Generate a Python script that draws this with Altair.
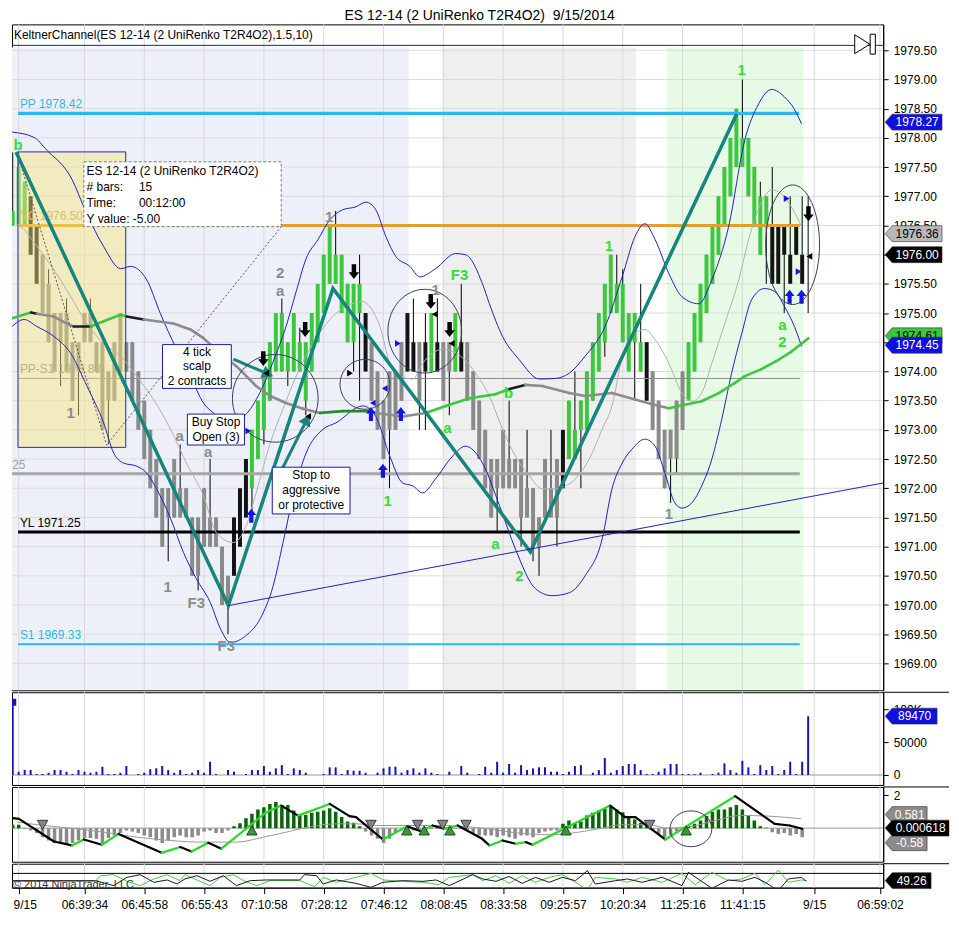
import altair as alt
import pandas as pd

FONT = "Liberation Sans"
W = 874
H_PRICE, H_VOL, H_IND, H_LOW = 668, 93, 75, 24
X_DOMAIN = [-0.12, 145.55]
P_DOMAIN = [1968.54, 1979.944]
V_DOMAIN = [-15150, 125750]
I_DOMAIN = [-2.04, 2.50]
L_DOMAIN = [29.1, 97.7]

TITLE = "ES 12-14 (2 UniRenko T2R4O2)\u00a0 9/15/2014"
KC_TEXT = "KeltnerChannel(ES 12-14 (2 UniRenko T2R4O2),1.5,10)"

# ---------------- x axis ----------------
XT = [1, 12, 22, 32, 42, 52, 62, 72, 82, 92, 102, 112, 122, 134, 145]
XL = ["9/15", "06:39:34", "06:45:58", "06:55:43", "07:10:58", "07:28:12", "07:46:12",
      "08:08:45", "08:33:58", "09:25:57", "10:20:34", "11:25:16", "11:41:15", "9/15", "06:59:02"]
P_TICKS = [1969.0, 1969.5, 1970.0, 1970.5, 1971.0, 1971.5, 1972.0, 1972.5, 1973.0, 1973.5,
           1974.0, 1974.5, 1975.0, 1975.5, 1976.0, 1976.5, 1977.0, 1977.5, 1978.0, 1978.5,
           1979.0, 1979.5]

# ---------------- price bars (UniRenko) ----------------
bar_open = [1976.5, 1976.5, 1976.5, 1977.0, 1976.5, 1976.0, 1975.5, 1975.0, 1975.0, 1975.0,
            1974.5, 1974.5, 1975.0, 1975.0, 1974.5, 1974.5, 1974.0, 1974.5, 1975.0, 1974.5,
            1974.5, 1974.0, 1973.5, 1973.0, 1972.5, 1972.0, 1972.0, 1972.5, 1972.0, 1972.0,
            1971.5, 1971.5, 1972.0, 1971.5, 1971.5, 1971.0, 1970.5, 1970.5, 1971.0, 1971.5,
            1972.0, 1972.5, 1973.0, 1973.5, 1974.0, 1974.0, 1974.0, 1974.0, 1974.0, 1973.5,
            1974.0, 1974.5, 1975.0, 1975.5, 1975.5, 1975.0, 1974.5, 1974.5, 1975.0, 1975.0,
            1974.5, 1974.0, 1973.5, 1974.0, 1974.0, 1974.5, 1975.0, 1974.5, 1974.5, 1974.5,
            1974.0, 1974.5, 1974.5, 1974.5, 1974.0, 1974.5, 1974.5, 1974.0, 1973.5, 1973.0,
            1972.5, 1972.5, 1973.0, 1972.5, 1972.5, 1972.5, 1972.0, 1972.0, 1971.5, 1972.5,
            1972.0, 1972.5, 1972.0, 1972.5, 1972.5, 1973.0, 1973.0, 1973.5, 1974.0, 1974.5,
            1975.0, 1975.0, 1974.5, 1974.0, 1974.5, 1974.0, 1974.5, 1974.0, 1973.5, 1973.0,
            1973.0, 1973.5, 1974.0, 1973.5, 1974.0, 1974.5, 1975.0, 1975.5, 1976.0, 1976.5,
            1977.0, 1977.5, 1977.5, 1977.0, 1976.5, 1976.0, 1976.5, 1976.5, 1976.5, 1976.5,
            1976.0, 1976.5, 1976.0, 1976.0]
bar_close = [1976.75, 1977.5, 1977.25, 1976.0, 1975.5, 1975.0, 1974.5, 1974.0, 1974.5, 1974.0,
             1973.5, 1974.0, 1974.5, 1974.5, 1974.0, 1973.0, 1973.5, 1973.5, 1974.0, 1974.0,
             1973.5, 1973.0, 1972.5, 1972.0, 1971.5, 1971.0, 1971.5, 1971.5, 1971.5, 1971.5,
             1970.5, 1970.5, 1971.0, 1971.0, 1971.0, 1970.0, 1970.0, 1971.5, 1972.0, 1972.5,
             1973.0, 1973.5, 1974.0, 1974.5, 1975.0, 1975.0, 1974.5, 1975.0, 1974.5, 1974.5,
             1975.0, 1975.5, 1976.0, 1976.5, 1976.0, 1976.0, 1975.5, 1975.5, 1975.5, 1974.0,
             1973.5, 1973.0, 1972.5, 1973.0, 1973.0, 1973.5, 1974.0, 1974.0, 1973.5, 1974.0,
             1975.0, 1974.0, 1973.5, 1974.0, 1975.0, 1974.0, 1973.5, 1973.0, 1972.5, 1972.0,
             1971.5, 1972.0, 1972.0, 1972.0, 1972.0, 1971.5, 1971.5, 1971.0, 1971.0, 1971.5,
             1971.5, 1971.5, 1973.0, 1973.5, 1973.0, 1973.5, 1974.0, 1974.5, 1975.0, 1975.5,
             1976.0, 1975.5, 1975.5, 1975.0, 1975.0, 1974.5, 1973.5, 1973.0, 1972.5, 1972.0,
             1972.5, 1972.5, 1973.0, 1974.5, 1975.0, 1975.5, 1976.0, 1976.5, 1977.0, 1977.5,
             1978.0, 1978.5, 1978.0, 1978.0, 1977.5, 1977.0, 1977.0, 1975.5, 1975.5, 1976.0,
             1975.5, 1976.0, 1975.5, 1976.0]
bar_high = [1977.75, 1977.75, 1977.25, 1977.0, 1976.5, 1976.0, 1975.75, 1975.0, 1975.0, 1975.25,
            1974.5, 1974.5, 1975.0, 1975.25, 1974.5, 1974.5, 1974.0, 1974.5, 1975.0, 1974.5,
            1974.5, 1974.0, 1973.5, 1973.0, 1972.5, 1972.0, 1972.0, 1972.5, 1972.75, 1972.0,
            1971.5, 1971.5, 1972.0, 1972.5, 1971.5, 1971.0, 1970.5, 1971.5, 1972.0, 1972.5,
            1973.0, 1973.5, 1974.0, 1974.5, 1975.0, 1975.25, 1974.5, 1975.0, 1974.75, 1974.5,
            1975.0, 1975.5, 1976.0, 1976.5, 1976.75, 1976.0, 1975.5, 1975.5, 1976.0, 1975.0,
            1974.5, 1974.0, 1973.5, 1974.0, 1974.0, 1974.5, 1975.0, 1975.25, 1974.5, 1975.0,
            1975.0, 1975.25, 1974.5, 1974.5, 1975.0, 1975.5, 1974.5, 1974.0, 1973.5, 1973.0,
            1972.5, 1972.5, 1973.0, 1973.5, 1972.5, 1972.5, 1973.0, 1972.0, 1971.5, 1972.5,
            1973.0, 1972.5, 1973.0, 1973.5, 1974.0, 1973.5, 1974.0, 1974.5, 1975.0, 1975.5,
            1976.0, 1976.0, 1975.75, 1975.0, 1975.0, 1975.5, 1974.5, 1974.0, 1973.5, 1973.0,
            1973.0, 1973.5, 1974.0, 1974.5, 1975.0, 1975.5, 1976.0, 1976.5, 1977.0, 1977.5,
            1978.0, 1978.5, 1979.0, 1978.0, 1977.5, 1977.25, 1977.0, 1977.5, 1976.5, 1976.5,
            1977.0, 1976.5, 1977.0, 1977.0]
bar_low = [1976.5, 1976.5, 1976.5, 1976.0, 1975.5, 1975.0, 1974.5, 1974.0, 1973.75, 1974.0,
           1973.5, 1973.25, 1974.5, 1974.5, 1974.0, 1973.0, 1972.75, 1973.5, 1974.0, 1974.0,
           1973.5, 1973.0, 1972.5, 1972.0, 1971.5, 1971.0, 1970.75, 1971.5, 1971.5, 1971.5,
           1970.5, 1970.25, 1971.0, 1971.0, 1971.0, 1970.0, 1969.5, 1970.5, 1971.0, 1971.5,
           1971.5, 1972.5, 1972.75, 1973.5, 1974.0, 1974.0, 1973.75, 1974.0, 1974.0, 1973.25,
           1974.0, 1974.5, 1975.0, 1975.5, 1975.5, 1975.0, 1974.5, 1974.0, 1973.5, 1974.0,
           1973.5, 1973.0, 1972.5, 1972.0, 1973.0, 1973.5, 1974.0, 1974.0, 1973.0, 1973.0,
           1974.0, 1974.0, 1973.5, 1973.25, 1974.0, 1974.0, 1973.5, 1973.0, 1972.5, 1972.0,
           1971.5, 1971.25, 1972.0, 1972.0, 1972.0, 1971.0, 1971.5, 1970.75, 1970.5, 1971.5,
           1971.5, 1971.0, 1972.0, 1972.5, 1972.5, 1972.0, 1973.0, 1973.5, 1974.0, 1974.25,
           1975.0, 1975.0, 1974.5, 1974.0, 1973.5, 1974.0, 1973.5, 1973.0, 1972.5, 1972.0,
           1971.75, 1972.25, 1973.0, 1973.5, 1974.0, 1974.5, 1975.0, 1975.5, 1976.0, 1976.5,
           1977.0, 1977.5, 1977.5, 1977.0, 1976.5, 1976.0, 1975.5, 1975.5, 1975.5, 1975.0,
           1975.5, 1976.0, 1975.5, 1975.0]
bar_kind = ("gggkk" + "ssssssssssssssssssssssssssssssss" + "kkk" + "ggggggggggggggggggg" + "k"
            + "ssssss" + "kk" + "s" + "k" + "g" + "k" + "ss" + "g" + "k" + "ssssssssssssssss"
            + "k" + "ggggggggggggg" + "k" + "ssssss" + "gggggggggggggg" + "kkkkkkk")

# ---------------- indicators on price ----------------
upper_i = [-0.1, 3.55, 5.7, 9.7, 12.4, 15.2, 18.05, 19.7, 22.4, 24.7, 27.4, 29.7, 31.9, 33.55,
           36.05, 38.55, 41.05, 43.55, 45.7, 47.4, 49.05, 51.05, 53.05, 55.2, 57.4, 59.05, 60.7,
           62.4, 64.05, 66.4, 68.05, 70.7, 74.05, 75.7, 78.55, 79.7, 81.9, 84.7, 88.05, 90.7,
           93.05, 95.7, 99.05, 101.9, 104.05, 105.7, 107.4, 109.7, 111.9, 114.7, 116.9, 119.7,
           122.4, 124.7, 126.9, 129.05, 130.7, 131.9]
upper_p = [1978.10, 1978.01, 1977.79, 1977.33, 1976.70, 1976.14, 1975.76, 1975.80, 1975.57,
           1974.99, 1974.38, 1973.92, 1973.46, 1973.29, 1973.15, 1973.23, 1973.58, 1974.17,
           1974.77, 1975.37, 1975.93, 1976.26, 1976.60, 1976.77, 1976.82, 1976.90, 1976.77,
           1976.31, 1975.97, 1975.80, 1975.62, 1975.76, 1976.02, 1976.00, 1975.50, 1975.16,
           1974.60, 1974.20, 1973.87, 1973.88, 1973.97, 1974.26, 1974.77, 1975.62, 1976.31,
           1976.53, 1976.26, 1975.68, 1975.28, 1975.16, 1975.57, 1976.48, 1977.96, 1978.58,
           1978.83, 1978.70, 1978.49, 1978.24]
lower_i = [-0.1, 1.9, 4.05, 6.9, 9.7, 12.4, 15.2, 16.9, 18.55, 20.7, 22.4, 24.05, 26.4, 28.55,
           30.7, 33.05, 34.7, 36.4, 39.05, 41.4, 43.55, 45.2, 46.9, 49.05, 51.9, 54.05, 58.55,
           60.7, 63.05, 65.2, 66.9, 68.55, 70.7, 73.55, 75.7, 78.55, 81.4, 84.05, 87.4, 90.2,
           93.05, 95.7, 98.55, 100.2, 101.9, 103.55, 105.7, 107.4, 109.05, 110.7, 111.9, 113.55,
           115.2, 116.9, 118.55, 120.2, 121.9, 123.55, 125.7, 127.4, 129.05, 130.7, 131.9]
lower_p = [1974.77, 1974.89, 1974.77, 1974.60, 1974.31, 1973.75, 1973.12, 1972.60, 1972.43,
           1972.38, 1972.26, 1971.99, 1971.48, 1970.90, 1970.45, 1970.04, 1969.60, 1969.36,
           1969.48, 1969.77, 1970.33, 1971.07, 1971.87, 1972.60, 1973.01, 1973.12, 1973.41,
           1973.23, 1972.55, 1972.09, 1972.04, 1971.92, 1972.16, 1972.55, 1972.72, 1972.43,
           1971.70, 1970.96, 1970.28, 1970.16, 1970.21, 1970.50, 1971.13, 1971.99, 1972.43,
           1972.67, 1972.84, 1972.72, 1972.26, 1971.75, 1971.66, 1971.75, 1972.04, 1972.50,
           1973.18, 1973.97, 1974.65, 1975.23, 1975.42, 1975.37, 1975.11, 1974.77, 1974.43]
fast_i = [0.2, 1.4, 4.05, 6.9, 9.7, 12.4, 15.2, 18.05, 20.7, 23.55, 26.4, 29.05, 31.9, 34.05,
          36.9, 39.05, 40.7, 43.05, 45.2, 47.4, 50.2, 53.05, 55.7, 58.55, 59.7, 61.4, 63.05,
          64.7, 66.9, 68.55, 71.9, 74.9, 77.4, 79.7, 81.9, 84.05, 86.4, 88.55, 90.7, 94.05,
          96.4, 98.55, 100.2, 101.9, 104.05, 105.7, 107.4, 109.7, 111.9, 113.55, 115.2, 116.9,
          119.05, 121.4, 123.05, 125.2, 126.9, 128.55, 130.2, 131.9]
fast_p = [1976.56, 1976.48, 1976.14, 1975.74, 1975.28, 1974.82, 1974.48, 1974.26, 1973.92,
          1973.52, 1973.01, 1972.43, 1971.87, 1971.24, 1971.07, 1971.36, 1971.92, 1972.77,
          1973.36, 1973.92, 1974.48, 1974.89, 1975.11, 1975.20, 1975.11, 1974.77, 1974.14,
          1973.92, 1973.87, 1974.14, 1974.38, 1974.26, 1973.97, 1973.58, 1973.01, 1972.55,
          1972.21, 1971.99, 1971.99, 1972.16, 1972.50, 1973.01, 1973.41, 1974.24, 1974.65,
          1974.72, 1974.55, 1974.14, 1973.63, 1973.49, 1973.63, 1974.14, 1974.82, 1975.57,
          1976.26, 1976.90, 1977.11, 1977.04, 1976.82, 1976.48]
slow_i = [-0.1, 3.05, 4.05, 6.9, 9.05, 10.2, 13.05, 15.2, 18.05, 19.05, 21.9, 26.9, 29.7, 31.9,
          34.7, 37.4, 40.7, 43.05, 45.7, 48.55, 51.4, 55.2, 59.7, 60.7, 65.2, 69.05, 72.4, 76.4,
          80.7, 83.05, 85.7, 88.55, 93.05, 95.7, 100.2, 104.05, 106.9, 109.7, 111.4, 115.2,
          118.05, 120.7, 122.4, 125.2, 128.05, 130.2, 133.05]
slow_p = [1974.91, 1975.01, 1974.99, 1974.94, 1974.82, 1974.77, 1974.77, 1974.86, 1974.97,
          1974.94, 1974.89, 1974.82, 1974.72, 1974.57, 1974.31, 1974.09, 1973.75, 1973.58,
          1973.46, 1973.36, 1973.29, 1973.32, 1973.32, 1973.29, 1973.23, 1973.29, 1973.41,
          1973.54, 1973.61, 1973.70, 1973.77, 1973.75, 1973.63, 1973.58, 1973.63, 1973.52,
          1973.44, 1973.37, 1973.41, 1973.49, 1973.63, 1973.80, 1973.92, 1974.04, 1974.20,
          1974.34, 1974.57]
slow_kind = "gksssk" + "ggg" + "k" + "ssssssssss" + "dd" + "sss" + "gggg" + "k" + "sssssss" + "gggggggggg"

# ---------------- drawing objects ----------------
region_from = [-0.12, 71.9, 109.4]
region_to = [66.2, 104.2, 132.2]
region_fill = ["#eef0f9", "#efefef", "#e6fae6"]
region_top = 1979.55

level_price = [1978.42, 1976.50, 1973.88, 1972.25, 1971.25, 1969.33]
level_from = [0.9, 0.9, 0.9, -0.12, 0.9, 0.9]
level_to = [131.5, 131.6, 131.6, 131.6, 131.6, 131.6]
level_text = ["PP 1978.42", "YC 1976.50", "PP-S1 1973.88", "25", "YL 1971.25", "S1 1969.33"]
level_text_at = [1.2, 1.2, 1.2, -0.12, 1.2, 1.2]

zig_i = [0.55, 36.05, 53.55, 86.55, 121.05]
zig_p = [1977.76, 1969.99, 1975.42, 1970.91, 1978.41]
trend_i = [36.05, 145.55]
trend_p = [1969.99, 1972.09]
arrow1_i, arrow1_p = [36.9, 42.4], [1974.21, 1973.97]
arrow2_i, arrow2_p = [44.9, 49.05], [1972.30, 1973.15]
dash_i = [1.2, 15.7, 44.9]
dash_p = [1977.59, 1972.74, 1976.48]
top_line_p = 1979.585

lab_text = ["b", "1", "a", "1", "a", "F3", "F3", "2", "a", "1", "1", "1", "F3", "a", "b", "a",
            "2", "1", "1", "1", "a", "2"]
lab_i = [0.9, 9.7, 27.9, 25.9, 32.7, 30.7, 35.7, 44.7, 44.7, 52.9, 62.7, 70.7, 74.7, 72.7, 82.9,
         80.7, 84.7, 99.7, 109.7, 121.9, 128.7, 128.7]
lab_p = [1977.88, 1973.29, 1972.89, 1970.30, 1972.62, 1970.04, 1969.29, 1975.69, 1975.37,
         1976.65, 1971.78, 1975.40, 1975.66, 1973.03, 1973.63, 1971.05, 1970.49, 1976.14,
         1971.56, 1979.16, 1974.80, 1974.50]
lab_kind = "gsssssssssgsggggggsggg"

down_i = [41.9, 48.9, 57.05, 69.9, 73.05, 133.05]
down_p = [1974.22, 1974.72, 1975.71, 1975.20, 1974.72, 1976.70]
up_i = [39.9, 59.9, 61.9, 64.9, 129.9, 131.9]
up_p = [1971.53, 1973.27, 1972.30, 1973.27, 1975.28, 1975.28]
tl_black_i = [42.4, 49.4, 70.55, 73.4, 133.2]
tl_black_p = [1973.97, 1973.23, 1974.98, 1974.48, 1975.97]
tr_black_i, tr_black_p = [56.4], [1973.97]
tl_blue_i, tl_blue_p = [62.2, 60.2], [1973.71, 1973.46]
tr_blue_i = [64.4, 39.4, 129.4, 131.4]
tr_blue_p = [1974.48, 1972.98, 1976.96, 1975.71]

ybox = [0.88, 18.9, 1977.76, 1972.70]
tip_box = [11.9, 44.9, 1977.59, 1976.48]
tip_left = ["ES 12-14 (2 UniRenko T2R4O2)", "# bars:", "Time:", "Y value: -5.00"]
tip_right = ["", "15", "00:12:00", ""]
tip_p = [1977.43, 1977.16, 1976.89, 1976.61]

cb_x0 = [25.05, 29.2, 43.4]
cb_x1 = [36.55, 38.75, 56.4]
cb_p0 = [1974.46, 1973.27, 1972.36]
cb_p1 = [1973.71, 1972.74, 1971.56]
cb_tx = [30.8, 34.0, 49.9]
cb_lines = [["4 tick", "scalp", "2 contracts"], ["Buy Stop", "Open (3)"],
            ["Stop to", "aggressive", "or protective"]]
cb_line_p = [[1974.34, 1974.09, 1973.83], [1973.13, 1972.88], [1972.23, 1971.97, 1971.71]]

price_badge_v = [1976.36, 1976.00, 1974.61, 1974.45, 1978.27]
price_badge_t = ["1976.36", "1976.00", "1974.61", "1974.45", "1978.27"]

# ---------------- volume ----------------
volume = [110600, 5000, 7500, 7500, 1500, 1500, 3500, 7500, 7500, 5000,
          1500, 7500, 5000, 3500, 5000, 12600, 1500, 1500, 3500, 13600,
          0, 1500, 3500, 8600, 10100, 13600, 7500, 3500, 7500, 1500,
          3500, 7500, 3500, 20200, 1500, 0, 7500, 5000, 0, 1500,
          7500, 7500, 13600, 5000, 10100, 15000, 1500, 10100, 7500, 3500,
          0, 0, 1500, 11600, 11600, 1500, 7500, 6500, 6500, 3500,
          0, 3500, 10100, 12600, 12600, 3500, 7500, 10100, 3500, 10100,
          3500, 1500, 0, 5000, 0, 13600, 3500, 0, 1500, 12600,
          3500, 20200, 3500, 16700, 3500, 15000, 7500, 10100, 11600, 11600,
          5000, 5000, 1500, 5000, 13600, 15000, 0, 3500, 7500, 26000,
          3500, 7500, 13600, 16700, 16700, 7500, 1500, 1500, 5000, 10100,
          16700, 16700, 1500, 1500, 1500, 3500, 0, 1500, 3500, 17700,
          7500, 3500, 21700, 11600, 1500, 15000, 7500, 13600, 1500, 7500,
          20200, 1500, 20200, 89470]
vol_badge_v, vol_badge_t = [89470], ["89470"]

# ---------------- oscillator panel ----------------
hist = [0.2, 0.2, -0.05, -0.15, -0.3, -0.55, -0.75, -0.9, -0.95, -0.95,
        -0.9, -0.75, -0.6, -0.6, -0.65, -0.9, -0.6, -0.45, -0.3, -0.15,
        -0.2, -0.3, -0.45, -0.55, -0.75, -0.9, -0.75, -0.55, -0.45, -0.55,
        -0.55, -0.45, -0.2, -0.15, -0.3, -0.3, -0.15, 0.12, 0.3, 0.6,
        0.87, 1.13, 1.27, 1.47, 1.58, 1.41, 1.41, 1.07, 0.8, 0.8,
        0.93, 1.0, 1.07, 1.2, 1.0, 0.67, 0.4, 0.32, 0.12, -0.2,
        -0.45, -0.65, -0.9, -0.65, -0.3, -0.15, 0.05, -0.15, -0.15, 0.03,
        0.03, 0.12, 0.12, -0.15, -0.05, -0.05, -0.15, -0.35, -0.45, -0.45,
        -0.45, -0.55, -0.45, -0.55, -0.65, -0.45, -0.45, -0.55, -0.3, -0.2,
        -0.15, -0.15, 0.26, 0.46, 0.26, 0.4, 0.77, 0.93, 1.07, 1.17,
        1.33, 1.13, 0.97, 0.67, 0.53, 0.32, 0.12, -0.15, -0.35, -0.55,
        -0.45, -0.2, -0.15, 0.12, 0.26, 0.46, 0.73, 1.0, 1.13, 1.13,
        1.27, 1.41, 1.13, 0.8, 0.46, 0.12, 0.03, -0.25, -0.35, -0.3,
        -0.45, -0.35, -0.55, 0.0]
osc_i = [0, 1.05, 6.9, 9.9, 11.9, 14.9, 17.7, 24.9, 28, 29.9, 32.7, 34.9, 42.4, 44.9, 47.7, 53,
         56.3, 57.4, 61.9, 66, 68.3, 70.2, 72.2, 74.4, 78.5, 79.7, 81.9, 84.1, 85.8, 86.9, 99.9,
         102.4, 104.1, 109.1, 120.8, 127.4, 129.9, 132]
osc_v = [0.61, 0.56, -0.81, -1.05, -0.69, -1.01, -0.35, -1.5, -1.15, -1.42, -0.89, -1.25, 0.97,
         1.37, 0.76, 1.47, 0.73, 0.67, -0.69, 0.12, -0.2, 0.16, -0.04, 0.16, -0.65, -1.05,
         -0.75, -0.95, -0.85, -1.01, 1.37, 0.67, 0.67, -0.69, 1.94, 0.26, 0.16, -0.04]
sig_i = [0.8, 5.2, 9.7, 15.2, 20.8, 26.3, 31.9, 37.4, 41.9, 45.8, 48.6, 54.1, 57.4, 60.8, 65.2,
         70.8, 78.5, 84, 89.6, 94, 97.9, 101.8, 106.3, 109.6, 112.9, 117.4, 121.8, 126.3, 131.8]
sig_v = [0.36, 0.16, 0, -0.24, -0.55, -0.75, -0.85, -0.85, -0.55, -0.24, 0, 0.26, 0.26, 0.16,
         0.16, 0.16, 0, -0.28, -0.4, -0.28, -0.04, 0.2, 0.2, 0, 0.06, 0.46, 0.77, 0.73, 0.57]
tri_dn_i = [5.0, 59.9, 67.7, 71.9, 75.8, 106.5]
tri_up_i = [40.0, 65.9, 68.8, 73.1, 92.5, 112.6]
tri_dn_v, tri_up_v = 0.2, -0.14
ind_badge_v = [0.581, -0.58, 0.000618]
ind_badge_t = ["0.581", "-0.58", "0.000618"]

# ---------------- lower panel ----------------
low_g_i = [0, 13.8, 14.7, 16.9, 19.1, 21.3, 23.6, 25.8, 28, 28.8, 30.8, 33, 34.7, 36.9, 38.6,
           40.8, 43, 48, 50.5, 51.9, 54.1, 56.3, 59.9, 61.9, 65.2, 68.6, 71.3, 73, 76.9, 78.6,
           80.8, 83, 85.2, 87.4, 89.7, 91.9, 94.1, 96.1, 97.4, 100.8, 102.8, 105.2, 108.6,
           111.9, 114.1, 116.9, 119.7, 121.9, 124.1, 125.8, 128, 129.7, 131.9, 132.7]
low_g_v = [47.2, 47.2, 63.4, 66.3, 47.2, 34.9, 54, 66.3, 49.1, 66.3, 51.1, 34.9, 58.6, 66.3,
           49.1, 34.9, 49.1, 49.1, 32, 58.6, 44.3, 54, 70, 51.1, 47.2, 44.3, 37.7, 58.6, 66.3,
           49.1, 63.4, 41.4, 63.4, 44.3, 58.6, 66.3, 44.3, 22.6, 58.6, 54, 44.3, 58.6, 44.3,
           70, 37.7, 72.9, 49.1, 54, 70, 37.7, 79.7, 44.3, 51.1, 49.1]
low_k_i = [0, 13.8, 16.9, 19.1, 21.3, 23.6, 25.8, 27.5, 28.8, 30.8, 33, 35.2, 37.4, 39.7, 42.4,
           48, 48.8, 50.8, 51.9, 54.1, 57.4, 59.9, 61.9, 65.2, 68.6, 70.8, 73, 76.9, 78.6, 80.8,
           83, 85.2, 87.4, 89.7, 91.9, 94.1, 96.1, 97.4, 100.8, 102.8, 105.2, 108.6, 111.9,
           113, 116.9, 119.7, 121.9, 124.1, 125.8, 128, 129.7, 131.9, 132.7]
low_k_v = [49.1, 49.1, 34.9, 58.6, 66.3, 44.3, 51.1, 39.6, 54, 63.4, 47.2, 63.4, 34.9, 49.1,
           51.1, 51.1, 66.3, 63.4, 39.6, 51.1, 41.4, 30, 44.3, 49.1, 47.2, 51.1, 34.9, 66.3, 54,
           47.2, 61, 41.4, 58.6, 44.3, 58.6, 49.1, 77.8, 39.6, 49.1, 54, 44.3, 58.6, 34.9,
           72.9, 27.1, 51.1, 47.2, 58.6, 44.3, 20.6, 54, 58.6, 47.2]
low_levels = [70]
low_badge_v, low_badge_t = [49.26], ["49.26"]

# =====================================================================
assert len(bar_open) == len(bar_close) == len(bar_high) == len(bar_low) == len(bar_kind) == 134
assert len(slow_kind) == len(slow_i) == len(slow_p)

BAR_COL = {"g": "#3cc83c", "k": "#141414", "s": "#8a8a8a"}
SLOW_COL = {"g": "#3cc83c", "k": "#1e1e1e", "s": "#8c8c8c", "d": "#2a8a2a"}
LEVEL_LINE = ["#2db8ec", "#e0a02c", "#8a8a8a", "#a6a6a6", "#000000", "#2db8ec"]
LEVEL_W = [3.5, 3, 1, 3, 3, 2]
LEVEL_TXT = ["#2db8ec", "#c9a24a", "#8a8a8a", "#a0a0a0", "#000000", "#2db8ec"]
LAB_COL = {"g": "#33dd33", "s": "#8c8c8c"}
TEAL = "#16857b"
KC_BLUE = "#2020c8"
SEP_W = 66

XS = alt.Scale(domain=X_DOMAIN, nice=False, zero=False)


def ysc(d):
    return alt.Scale(domain=d, nice=False, zero=False)


PS, VS, IS, LS = ysc(P_DOMAIN), ysc(V_DOMAIN), ysc(I_DOMAIN), ysc(L_DOMAIN)

AXC = dict(title=None, tickSize=5, labelPadding=5, labelFontSize=12, labelFont=FONT, labelColor="#000",
           tickColor="#000", domainColor="#000", grid=False, labelFlush=False, labelOverlap=False)
Y_AXES = {
    id(PS): alt.Axis(orient="right", values=P_TICKS, format=".2f", **AXC),
    id(VS): alt.Axis(orient="right", values=[0, 50000, 100000],
                     labelExpr="datum.value >= 100000 ? '100K' : format(datum.value, 'd')", **AXC),
    id(IS): alt.Axis(orient="right", values=[2], format="d", **AXC),
    id(LS): alt.Axis(orient="right", values=[], **AXC),
}
LABEL_EXPR = ("[" + ",".join(f"'{s}'" for s in XL) + "][indexof([" + ",".join(str(v) for v in XT)
              + "], datum.value)]")
X_AXIS_BOTTOM = alt.Axis(orient="bottom", values=XT, labelExpr=LABEL_EXPR, title=None, tickSize=6,
                         labelFontSize=12, labelFont=FONT, labelPadding=6, grid=False, labelFlush=False,
                         labelOverlap=False, domainColor="#000", tickColor="#000", labelColor="#000",
                         labelOffset={"condition": {"test": f"datum.value == {XT[0]}", "value": 6}, "value": 0})
STATE = {"xaxis": None}


def ex(f="x"):
    return alt.X(f, type="quantitative", scale=XS, axis=STATE["xaxis"])


def ey(f, s):
    return alt.Y(f, type="quantitative", scale=s, axis=Y_AXES[id(s)])


def segs(xs, ys, kinds=None, cmap=None):
    d = pd.DataFrame({"x": xs[:-1], "y": ys[:-1], "x2": xs[1:], "y2": ys[1:]})
    if kinds is not None:
        d["c"] = [cmap[k] for k in kinds[:-1]]
    return d


def pts(xs, ys):
    return pd.DataFrame({"x": xs, "y": ys})


def vgrid():
    return alt.Chart(pd.DataFrame({"x": XT})).mark_rule(color="#d9d9d9", strokeWidth=1).encode(x=ex("x"))


def separator():
    # panel separator continuing across the right-hand scale area
    return alt.Chart(pd.DataFrame({"a": [0]})).mark_rule(color="#000", strokeWidth=1).encode(
        x=alt.value(W), x2=alt.value(W + SEP_W), y=alt.value(0))


def ellipse_path(rx, ry):
    if rx <= ry:
        r = rx / ry
        return f"M 0 -1 A {r:.3f} 1 0 1 1 0 1 A {r:.3f} 1 0 1 1 0 -1 Z", (2 * ry) ** 2
    r = ry / rx
    return f"M -1 0 A 1 {r:.3f} 0 1 1 1 0 A 1 {r:.3f} 0 1 1 -1 0 Z", (2 * rx) ** 2


def ellipse(xc, yc, rx, ry, scale, color="#3c3c5c"):
    path, size = ellipse_path(rx, ry)
    return alt.Chart(pts([xc], [yc])).mark_point(shape=path, size=size, filled=False, stroke=color,
                                                 strokeWidth=1, opacity=1).encode(x=ex("x"), y=ey("y", scale))


def badges(values, labels, fills, tcols, widths, scale, dys=None):
    out = []
    dys = dys or [0] * len(values)
    for v, lab, f, tc, w, dy in zip(values, labels, fills, tcols, widths, dys):
        h = 16.0 / w
        t = -1 + 14.0 / w
        o = 2.0 * dy / w
        path = (f"M -1 {o:.4f} L {t:.4f} {-h + o:.4f} L 1 {-h + o:.4f} "
                f"L 1 {h + o:.4f} L {t:.4f} {h + o:.4f} Z")
        d = pd.DataFrame({"v": [v], "t": [lab]})
        out.append(alt.Chart(d).mark_point(shape=path, size=w * w, filled=True, fill=f, stroke="#333333",
                                           strokeWidth=0.6, opacity=1)
                   .encode(x=alt.value(W + 2 + w / 2), y=ey("v", scale)))
        out.append(alt.Chart(d).mark_text(font=FONT, fontSize=12, color=tc, align="center", baseline="middle",
                                          dy=dy)
                   .encode(x=alt.value(W + 5.5 + w / 2), y=ey("v", scale), text="t:N"))
    return out


# ---------------- price panel layers ----------------
bars = pd.DataFrame({"i": list(range(134)), "o": bar_open, "c": bar_close, "h": bar_high,
                     "l": bar_low, "col": [BAR_COL[k] for k in bar_kind]})

L = []
L.append(alt.Chart(pd.DataFrame({"x": region_from, "x2": region_to, "c": region_fill,
                                 "t": [region_top] * 3})).mark_rect(clip=True)
         .encode(x=ex("x"), x2="x2", y=ey("t", PS), y2=alt.value(H_PRICE), color=alt.Color("c:N", scale=None)))
L.append(alt.Chart(pd.DataFrame({"p": P_TICKS})).mark_rule(color="#dcdcdc", strokeWidth=1).encode(y=ey("p", PS)))
L.append(vgrid())
L.append(alt.Chart(bars).mark_rule(color="#000", strokeWidth=1, clip=True)
         .encode(x=ex("i"), y=ey("l", PS), y2="h"))
L.append(alt.Chart(bars).mark_rule(strokeWidth=4, clip=True)
         .encode(x=ex("i"), y=ey("o", PS), y2="c", color=alt.Color("col:N", scale=None)))
lv = pd.DataFrame({"p": level_price, "x": level_from, "x2": level_to, "c": LEVEL_LINE, "w": LEVEL_W,
                   "t": level_text, "tx": level_text_at, "tc": LEVEL_TXT})
L.append(alt.Chart(lv).mark_rule(clip=True).encode(x=ex("x"), x2="x2", y=ey("p", PS),
                                                   color=alt.Color("c:N", scale=None),
                                                   strokeWidth=alt.StrokeWidth("w:Q", scale=None)))
L.append(alt.Chart(lv).mark_text(font=FONT, fontSize=12, align="left", baseline="bottom", dy=-2)
         .encode(x=ex("tx"), y=ey("p", PS), text="t:N", color=alt.Color("tc:N", scale=None)))
L.append(alt.Chart(pd.DataFrame({"x": [ybox[0]], "x2": [ybox[1]], "y": [ybox[2]], "y2": [ybox[3]]}))
         .mark_rect(fill="#f7e47a", fillOpacity=0.45, stroke="#2424c8", strokeWidth=1)
         .encode(x=ex("x"), x2="x2", y=ey("y", PS), y2="y2"))
L.append(alt.Chart(pts(upper_i, upper_p)).mark_line(color=KC_BLUE, strokeWidth=1, interpolate="monotone", clip=True)
         .encode(x=ex("x"), y=ey("y", PS)))
L.append(alt.Chart(pts(lower_i, lower_p)).mark_line(color=KC_BLUE, strokeWidth=1, interpolate="monotone", clip=True)
         .encode(x=ex("x"), y=ey("y", PS)))
L.append(alt.Chart(pts(fast_i, fast_p)).mark_line(color="#b0b0b0", strokeWidth=1, interpolate="monotone", clip=True)
         .encode(x=ex("x"), y=ey("y", PS)))
L.append(alt.Chart(segs(slow_i, slow_p, slow_kind, SLOW_COL)).mark_rule(strokeWidth=2.6, strokeCap="round", clip=True)
         .encode(x=ex("x"), y=ey("y", PS), x2="x2", y2="y2", color=alt.Color("c:N", scale=None)))
L.append(alt.Chart(pd.DataFrame({"x": [tip_box[0]], "x2": [tip_box[1]], "y": [tip_box[2]], "y2": [tip_box[3]]}))
         .mark_rect(fill="#ffffff", stroke="#777777", strokeDash=[3, 2], strokeWidth=1)
         .encode(x=ex("x"), x2="x2", y=ey("y", PS), y2="y2"))
tip = pd.DataFrame({"a": tip_left, "b": tip_right, "p": tip_p,
                    "xa": [tip_box[0] + 0.45] * 4, "xb": [tip_box[0] + 9.2] * 4})
L.append(alt.Chart(tip).mark_text(font=FONT, fontSize=12, align="left", baseline="middle", color="#000")
         .encode(x=ex("xa"), y=ey("p", PS), text="a:N"))
L.append(alt.Chart(tip).mark_text(font=FONT, fontSize=12, align="left", baseline="middle", color="#000")
         .encode(x=ex("xb"), y=ey("p", PS), text="b:N"))
L.append(alt.Chart(pts(dash_i, dash_p)).mark_line(color="#555555", strokeWidth=1, strokeDash=[2, 2])
         .encode(x=ex("x"), y=ey("y", PS), order="x:Q"))
L.append(alt.Chart(pts(zig_i, zig_p)).mark_line(color=TEAL, strokeWidth=3.5).encode(x=ex("x"), y=ey("y", PS)))
L.append(alt.Chart(segs(trend_i, trend_p)).mark_rule(color=KC_BLUE, strokeWidth=1)
         .encode(x=ex("x"), y=ey("y", PS), x2="x2", y2="y2"))
for ai, ap, ang in [(arrow1_i, arrow1_p, 113), (arrow2_i, arrow2_p, 27)]:
    L.append(alt.Chart(segs(ai, ap)).mark_rule(color=TEAL, strokeWidth=3)
             .encode(x=ex("x"), y=ey("y", PS), x2="x2", y2="y2"))
    L.append(alt.Chart(pts([ai[1]], [ap[1]])).mark_point(shape="triangle", angle=ang, size=170, filled=True,
                                                        color=TEAL, opacity=1)
             .encode(x=ex("x"), y=ey("y", PS)))
L.append(ellipse(43.9, 1973.54, 43, 44, PS))
L.append(ellipse(58.9, 1973.78, 25, 25, PS))
L.append(ellipse(68.9, 1974.69, 37, 42, PS))
L.append(ellipse(130.4, 1976.17, 27, 60, PS))
DOWN_PATH = "M -0.3 -1 L 0.3 -1 L 0.3 0.1 L 0.7 0.1 L 0 1 L -0.7 0.1 L -0.3 0.1 Z"
UP_PATH = "M -0.3 1 L 0.3 1 L 0.3 -0.1 L 0.7 -0.1 L 0 -1 L -0.7 -0.1 L -0.3 -0.1 Z"
L.append(alt.Chart(pts(down_i, down_p)).mark_point(shape=DOWN_PATH, size=225, filled=True, color="#000", opacity=1)
         .encode(x=ex("x"), y=ey("y", PS)))
L.append(alt.Chart(pts(up_i, up_p)).mark_point(shape=UP_PATH, size=196, filled=True, color="#1414e0", opacity=1)
         .encode(x=ex("x"), y=ey("y", PS)))
for xi, yp, shp, col in [(tl_black_i, tl_black_p, "triangle-left", "#000"),
                         (tr_black_i, tr_black_p, "triangle-right", "#000"),
                         (tl_blue_i, tl_blue_p, "triangle-left", "#1414e0"),
                         (tr_blue_i, tr_blue_p, "triangle-right", "#1414e0")]:
    L.append(alt.Chart(pts(xi, yp)).mark_point(shape=shp, size=45, filled=True, color=col, opacity=1)
             .encode(x=ex("x"), y=ey("y", PS)))
labs = pd.DataFrame({"x": lab_i, "y": lab_p, "t": lab_text, "c": [LAB_COL[k] for k in lab_kind]})
L.append(alt.Chart(labs).mark_text(font=FONT, fontSize=15, fontWeight="bold", align="center", baseline="middle")
         .encode(x=ex("x"), y=ey("y", PS), text="t:N", color=alt.Color("c:N", scale=None)))
cb = pd.DataFrame({"x": cb_x0, "x2": cb_x1, "y": cb_p0, "y2": cb_p1})
L.append(alt.Chart(cb).mark_rect(fill="#ffffff", stroke="#1a1aa8", strokeWidth=1)
         .encode(x=ex("x"), x2="x2", y=ey("y", PS), y2="y2"))
cbt = pd.DataFrame({"x": [cb_tx[k] for k in range(3) for _ in cb_lines[k]],
                    "y": [p for k in range(3) for p in cb_line_p[k]],
                    "t": [s for k in range(3) for s in cb_lines[k]]})
L.append(alt.Chart(cbt).mark_text(font=FONT, fontSize=12, align="center", baseline="middle", color="#000")
         .encode(x=ex("x"), y=ey("y", PS), text="t:N"))
L.append(alt.Chart(pd.DataFrame({"p": [top_line_p]})).mark_rule(color="#1818a8", strokeWidth=1).encode(y=ey("p", PS)))
L.append(alt.Chart(pts([142.05], [top_line_p + 0.02])).mark_point(shape="M -0.8 -1 L 0.8 0 L -0.8 1 Z", size=361,
                                                              filled=True, fill="#ffffff", stroke="#000",
                                                              strokeWidth=1, opacity=1)
         .encode(x=ex("x"), y=ey("y", PS)))
L.append(alt.Chart(pts([143.8], [top_line_p + 0.02])).mark_point(shape="M -0.26 -1 L 0.26 -1 L 0.26 1 L -0.26 1 Z",
                                                             size=400, filled=True, fill="#ffffff", stroke="#000",
                                                             strokeWidth=1, opacity=1)
         .encode(x=ex("x"), y=ey("y", PS)))
L.append(alt.Chart(pd.DataFrame({"x": [-0.12], "y": [1979.76], "t": [KC_TEXT]}))
         .mark_text(font=FONT, fontSize=12, align="left", baseline="middle", color="#000000", dx=2)
         .encode(x=ex("x"), y=ey("y", PS), text="t:N"))
L += badges(price_badge_v, price_badge_t,
            ["#b8b8b8", "#000000", "#3cc83c", "#1010e0", "#1010e0"],
            ["#000000", "#ffffff", "#000000", "#ffffff", "#ffffff"],
            [57, 57, 57, 57, 57], PS)
price = alt.layer(*L).properties(width=W, height=H_PRICE)

# ---------------- volume panel ----------------
vol = pd.DataFrame({"i": list(range(134)), "v": volume, "z": [0] * 134})
V = [vgrid(), separator(),
     alt.Chart(pd.DataFrame({"p": [0]})).mark_rule(color="#9a9a9a").encode(y=ey("p", VS)),
     alt.Chart(vol).mark_rule(color="#1414b4", strokeWidth=2, clip=True).encode(x=ex("i"), y=ey("v", VS), y2="z"),
     alt.Chart(pts([0], [volume[0]])).mark_point(shape="square", size=50, filled=True, color="#1414b4", opacity=1,
                                                 clip=True)
     .encode(x=ex("x"), y=ey("y", VS))]
V += badges(vol_badge_v, vol_badge_t, ["#1010e0"], ["#ffffff"], [52], VS)
volp = alt.layer(*V).properties(width=W, height=H_VOL)

# ---------------- oscillator panel ----------------
hd = pd.DataFrame({"i": list(range(134)), "v": hist, "z": [0] * 134,
                   "c": ["#0a640a" if h > 0 else "#8a8a8a" for h in hist]})
od = segs(osc_i, osc_v)
od["c"] = ["#22dd22" if b > a else "#000000" for a, b in zip(osc_v[:-1], osc_v[1:])]
I = [vgrid(), separator(),
     alt.Chart(pd.DataFrame({"p": [0]})).mark_rule(color="#9a9a9a").encode(y=ey("p", IS)),
     alt.Chart(hd).mark_rule(strokeWidth=3.5, clip=True)
     .encode(x=ex("i"), y=ey("v", IS), y2="z", color=alt.Color("c:N", scale=None)),
     alt.Chart(pts(sig_i, sig_v)).mark_line(color="#9a9a9a", strokeWidth=1, interpolate="monotone", clip=True)
     .encode(x=ex("x"), y=ey("y", IS)),
     alt.Chart(od).mark_rule(strokeWidth=2.2, strokeCap="round", clip=True)
     .encode(x=ex("x"), y=ey("y", IS), x2="x2", y2="y2", color=alt.Color("c:N", scale=None)),
     alt.Chart(pts(tri_dn_i, [tri_dn_v] * len(tri_dn_i))).mark_point(shape="triangle-down", size=110, filled=True,
                                                                   fill="#858585", stroke="#3a3a3a",
                                                                   strokeWidth=1, opacity=1)
     .encode(x=ex("x"), y=ey("y", IS)),
     alt.Chart(pts(tri_up_i, [tri_up_v] * len(tri_up_i))).mark_point(shape="triangle-up", size=110, filled=True,
                                                                   fill="#3a9a3a", stroke="#1a4a1a",
                                                                   strokeWidth=1, opacity=1)
     .encode(x=ex("x"), y=ey("y", IS)),
     ellipse(113.4, -0.04, 21, 18, IS)]
I += badges(ind_badge_v, ind_badge_t, ["#8c8c8c", "#8c8c8c", "#000000"], ["#ffffff", "#ffffff", "#ffffff"],
            [42, 42, 64], IS, dys=[-4, 5, 0])
indp = alt.layer(*I).properties(width=W, height=H_IND)

# ---------------- lower panel ----------------
STATE["xaxis"] = X_AXIS_BOTTOM
B = [vgrid(), separator(),
     alt.Chart(pd.DataFrame({"p": low_levels})).mark_rule(color="#000", strokeWidth=1).encode(y=ey("p", LS)),
     alt.Chart(pts(low_g_i, low_g_v)).mark_line(color="#44cc44", strokeWidth=1, clip=True)
     .encode(x=ex("x"), y=ey("y", LS)),
     alt.Chart(pts(low_k_i, low_k_v)).mark_line(color="#1a1a1a", strokeWidth=1, clip=True)
     .encode(x=ex("x"), y=ey("y", LS)),
     alt.Chart(pd.DataFrame({"x": [-0.12], "y": [37.0], "t": ["\u00a9 2014 NinjaTrader, LLC"]}))
     .mark_text(font=FONT, fontSize=11, align="left", baseline="middle", color="#333333", dx=1)
     .encode(x=ex("x"), y=ey("y", LS), text="t:N")]
B += badges(low_badge_v, low_badge_t, ["#000000"], ["#ffffff"], [46], LS)
lowp = alt.layer(*B).properties(width=W, height=H_LOW)

chart = alt.vconcat(price, volp, indp, lowp, spacing=0,
                    title=alt.TitleParams(TITLE, fontSize=14, font=FONT, fontWeight="normal",
                                          anchor="middle", offset=0, color="#000")) \
    .properties(padding={"left": 0, "top": 0, "right": 0, "bottom": 0}) \
    .configure_view(stroke="#000000", strokeWidth=1)

chart.save("out.html", embed_options={"renderer": "svg", "actions": False})
